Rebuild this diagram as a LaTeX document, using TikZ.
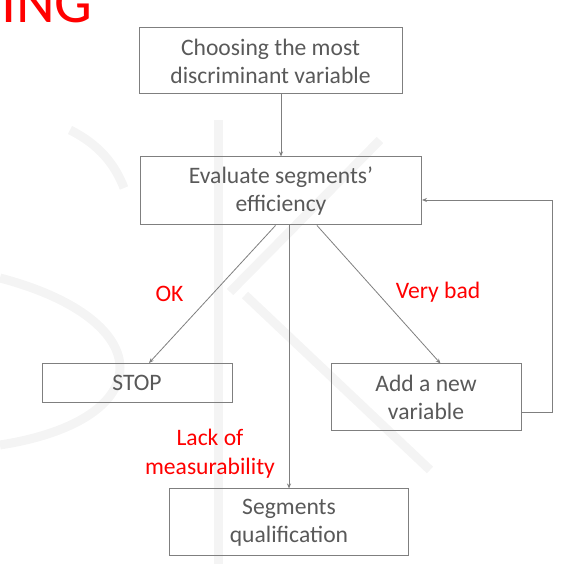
\documentclass[tikz,border=0pt]{standalone}
\usepackage{fontspec}
\setmainfont{Carlito}
\usetikzlibrary{arrows.meta, positioning, calc}
\definecolor{boxtext}{RGB}{89,89,89}
\definecolor{edge}{RGB}{127,127,127}
\definecolor{alert}{RGB}{255,0,0}
\definecolor{faint}{RGB}{244,244,244}
\tikzset{
  stage/.style={draw=edge, line width=1pt, text=boxtext, align=center,
    font=\fontsize{23.6}{28}\selectfont, inner sep=0pt},
  flow/.style={draw=edge, line width=0.8pt, -{Stealth[length=5pt,width=4pt]}},
  verdict/.style={text=alert, align=center, font=\fontsize{23.6}{29}\selectfont},
  logo/.style={faint, line width=9pt}
}

\begin{document}
\begin{tikzpicture}[x=1pt, y=-1pt]
  \useasboundingbox (0,0) rectangle (582,564);
  % watermark
  \draw[logo] (218,120) -- (218,564);
  \draw[logo] (230,292) -- (380,140);
  \draw[logo] (245,295) -- (430,470);
  \draw[logo] (0,278) .. controls (160,320) and (160,420) .. (0,445);
  \draw[logo] (70,130) .. controls (100,145) and (115,165) .. (124,188);
  \node[text=alert, font=\fontsize{60}{60}\selectfont, anchor=base east, inner sep=0pt] (title) at (93,23) {ING};
  % boxes
  \node[stage, minimum width=263, minimum height=66] (choose) at (270.5,61) {Choosing the most\\discriminant variable};
  \node[stage, minimum width=281, minimum height=68] (eval) at (281,191) {Evaluate segments’\\efficiency};
  \node[stage, minimum width=190, minimum height=39] (stop) at (137,383) {STOP};
  \node[stage, minimum width=190, minimum height=67] (add) at (426,397.5) {Add a new\\variable};
  \node[stage, minimum width=239, minimum height=67] (seg) at (289,522.5) {Segments\\qualification};
  % labels
  \node[verdict] (ok) at (169.5,294) {OK};
  \node[verdict] (bad) at (438,292) {Very bad};
  \node[verdict] (lack) at (210,454) {Lack of\\measurability};
  % arrows
  \draw[flow] (choose.south -| eval.north) -- (eval.north);
  \draw[flow] ($(eval.south)+(-5.5,0)$) -- ($(stop.north)+(12,0)$);
  \draw[flow] (eval.south -| seg.north) -- (seg.north);
  \draw[flow] ($(eval.south)+(36,0)$) -- ($(add.north)+(14.5,0)$);
  \coordinate (back) at (552,200);
  \draw[flow] ($(add.east)+(0,14.5)$) -| (back) -- ($(eval.east)+(0,9)$);
\end{tikzpicture}
\end{document}
